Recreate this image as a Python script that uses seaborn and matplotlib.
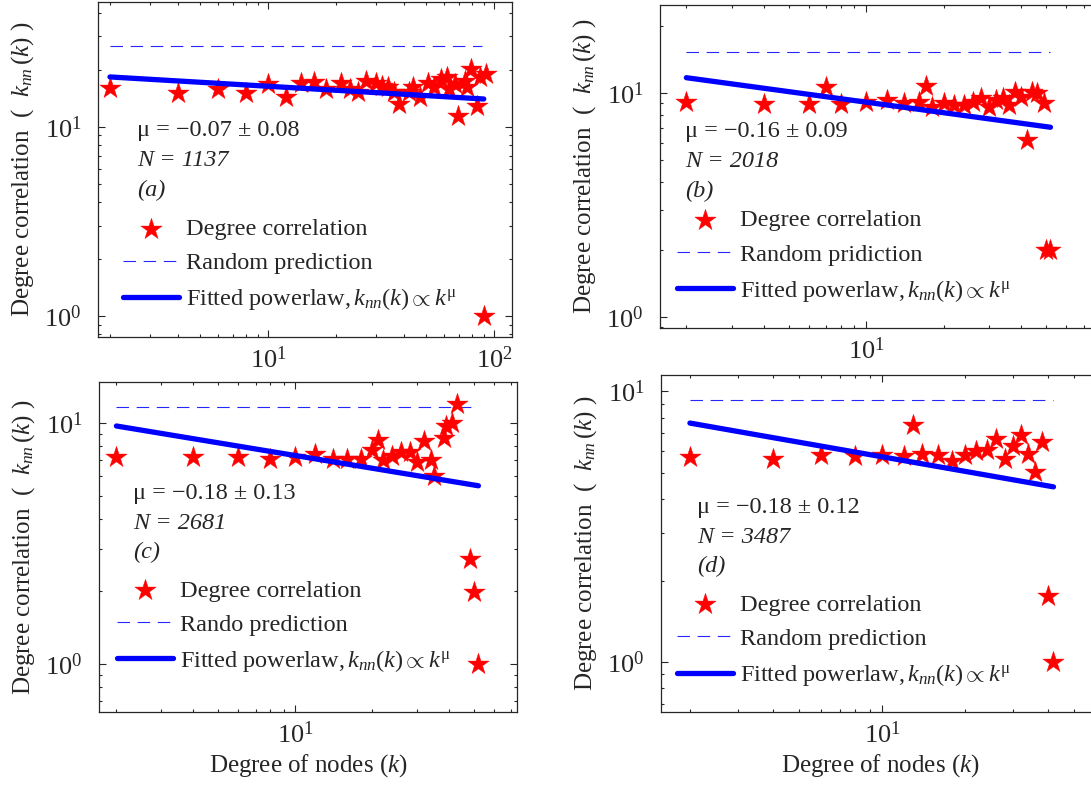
import matplotlib
matplotlib.use("Agg")
import matplotlib.pyplot as plt
import matplotlib.ticker as mticker
import seaborn as sns


# ---------------------------------------------------------------------------
# Data (degree k, average neighbour degree k_nn)
# ---------------------------------------------------------------------------

a_k = [2, 4, 6, 8, 10, 12, 14, 16, 18, 21, 23, 25, 27, 30, 32, 34, 36, 38, 42, 44,
       47, 51, 54, 58, 62, 63, 67, 69, 74, 76, 79, 84, 87, 92, 90]
a_knn = [16.0, 15.0, 15.8, 15.0, 16.8, 14.3, 17.1, 17.2, 15.8, 17.1, 15.8, 15.2, 17.5, 17.1,
         16.4, 16.1, 15.2, 13.2, 15.2, 16.1, 14.3, 17.1, 16.1, 17.8, 18.2, 15.8, 16.8, 11.4,
         17.5, 16.1, 20.1, 12.9, 18.2, 18.9, 1.0]
a_fit_k = [2, 90]
a_fit_knn = [18.3, 14.0]
a_rand_k = [2, 88]
a_rand_knn = [26.5, 26.5]

b_k = [2, 4, 6, 7, 8, 10, 12, 14, 16, 17, 18, 20, 22, 24, 26, 28, 30, 32, 34, 36,
       38, 40, 42, 44, 46, 49, 50, 52]
b_knn = [9.09, 8.91, 8.93, 10.6, 8.91, 9.15, 9.3, 9.0, 9.15, 10.7, 8.69, 9.0, 8.84, 8.84,
         9.15, 9.47, 8.69, 9.3, 9.47, 8.84, 10.1, 9.62, 6.17, 10.1, 9.97, 9.0, 2.0, 2.0]
b_fit_k = [2, 52]
b_fit_knn = [11.7, 7.03]
b_rand_k = [2, 52]
b_rand_knn = [15.2, 15.2]

c_k = [2, 4, 6, 8, 10, 12, 14, 16, 18, 20, 21, 22, 24, 26, 28, 30, 32, 34, 35, 38,
       39, 41, 43, 48, 50, 52]
c_knn = [7.2, 7.2, 7.25, 7.06, 7.2, 7.42, 7.1, 7.1, 7.1, 7.73, 8.5, 7.02, 7.3, 7.56,
         7.6, 6.87, 8.43, 7.02, 6.0, 8.63, 9.75, 9.97, 11.95, 2.72, 1.98, 1.0]
c_fit_k = [2, 52]
c_fit_knn = [9.72, 5.49]
c_rand_k = [2, 52]
c_rand_knn = [11.6, 11.6]

d_k = [2, 4, 6, 8, 10, 12, 13, 14, 16, 18, 20, 22, 24, 26, 28, 30, 32, 34, 36, 38, 40, 42]
d_knn = [5.73, 5.65, 5.81, 5.76, 5.81, 5.76, 7.5, 5.89, 5.81, 5.52, 5.81, 6.02, 6.07, 6.68,
         5.65, 6.27, 6.89, 5.89, 5.03, 6.5, 1.75, 1.0]
d_fit_k = [2, 42]
d_fit_knn = [7.64, 4.44]
d_rand_k = [2, 42]
d_rand_knn = [9.26, 9.26]

mu_texts = ["μ = −0.07 ± 0.08", "μ = −0.16 ± 0.09", "μ = −0.18 ± 0.13", "μ = −0.18 ± 0.12"]
n_texts = ["N = 1137", "N = 2018", "N = 2681", "N = 3487"]
tags = ["(a)", "(b)", "(c)", "(d)"]
rand_labels = ["Random prediction", "Random pridiction", "Rando prediction", "Random prediction"]
star_label = "Degree correlation"
fit_label = r"Fitted powerlaw,$\,k_{nn}(k)\propto k^{\mathrm{μ}}$"
ylabel = r"Degree correlation  (  $k_{nn}\,(k)$ )"
xlabel = r"Degree of nodes ($k$)"


# ---------------------------------------------------------------------------
# Style
# ---------------------------------------------------------------------------

sns.set_style("ticks")
plt.rcParams["font.family"] = ["Liberation Serif", "DejaVu Serif"]
plt.rcParams["mathtext.fontset"] = "custom"
plt.rcParams["mathtext.rm"] = "Liberation Serif"
plt.rcParams["mathtext.it"] = "Liberation Serif:italic"
plt.rcParams["mathtext.bf"] = "Liberation Serif:bold"
plt.rcParams["axes.linewidth"] = 0.9
plt.rcParams["lines.scale_dashes"] = False

FS = 17.5
TICK_FS = 19

panels = [
    dict(k=a_k, knn=a_knn, fk=a_fit_k, fy=a_fit_knn, rk=a_rand_k, ry=a_rand_knn,
         rect=[98, 2, 512, 337], xlim=(1.77, 120), ylim=(0.776, 45.5),
         txt=(0.094, 0.616, 0.527, 0.4375), leg=(0.060, 0.355)),
    dict(k=b_k, knn=b_knn, fk=b_fit_k, fy=b_fit_knn, rk=b_rand_k, ry=b_rand_knn,
         rect=[660, 5, 1100, 328], xlim=(1.58, 81), ylim=(0.893, 24.7),
         txt=(0.057, 0.607, 0.514, 0.424), leg=(0.039, 0.367)),
    dict(k=c_k, knn=c_knn, fk=c_fit_k, fy=c_fit_knn, rk=c_rand_k, ry=c_rand_knn,
         rect=[99, 382, 517, 712], xlim=(1.71, 73.6), ylim=(0.632, 14.8),
         txt=(0.081, 0.661, 0.570, 0.483), leg=(0.043, 0.401)),
    dict(k=d_k, knn=d_knn, fk=d_fit_k, fy=d_fit_knn, rk=d_rand_k, ry=d_rand_knn,
         rect=[661, 375, 1100, 712], xlim=(1.57, 62), ylim=(0.654, 11.5),
         txt=(0.082, 0.608, 0.519, 0.433), leg=(0.036, 0.351)),
]

W, H = 1091, 786
fig = plt.figure(figsize=(W / 100, H / 100), dpi=100)

for i, p in enumerate(panels):
    x0, y0, x1, y1 = p["rect"]
    ax = fig.add_axes([x0 / W, 1 - y1 / H, (x1 - x0) / W, (y1 - y0) / H])

    sns.scatterplot(x=p["k"], y=p["knn"], marker="*", s=260, color="red",
                    edgecolor="red", linewidth=0.3, ax=ax, label=star_label, zorder=3)
    sns.lineplot(x=p["rk"], y=p["ry"], color="blue", lw=0.8, ax=ax,
                 linestyle=(0, (9, 5.5)), label=rand_labels[i], alpha=0.85)
    sns.lineplot(x=p["fk"], y=p["fy"], color="blue", lw=3.8, ax=ax,
                 label=fit_label, zorder=4)

    ax.set_xscale("log")
    ax.set_yscale("log")
    ax.set_xlim(*p["xlim"])
    ax.set_ylim(*p["ylim"])
    ax.xaxis.set_minor_formatter(mticker.NullFormatter())
    ax.yaxis.set_minor_formatter(mticker.NullFormatter())
    ax.tick_params(which="both", direction="in", top=True, right=True,
                   labelsize=TICK_FS, width=0.8)
    ax.tick_params(which="major", length=5)
    ax.tick_params(which="minor", length=2.5)
    ax.tick_params(axis="y", which="major", pad=12)
    ax.tick_params(axis="x", which="major", pad=7)

    ax.set_ylabel(ylabel, fontsize=FS + 0.5, labelpad=6)
    if i >= 2:
        ax.set_xlabel(xlabel, fontsize=FS + 0.5, labelpad=3)
    else:
        ax.set_xlabel("")

    tx, ty1, ty2, ty3 = p["txt"]
    ax.text(tx, ty1, mu_texts[i], transform=ax.transAxes, fontsize=FS, va="center")
    ax.text(tx, ty2, n_texts[i], transform=ax.transAxes, fontsize=FS, va="center",
            style="italic")
    ax.text(tx, ty3, tags[i], transform=ax.transAxes, fontsize=FS, va="center",
            style="italic")

    ax.legend(loc="upper left", bbox_to_anchor=p["leg"], frameon=False,
              fontsize=FS, borderpad=0, borderaxespad=0, handlelength=2.3,
              handletextpad=0.3, labelspacing=0.5)

fig.savefig("out.png", dpi=100)
